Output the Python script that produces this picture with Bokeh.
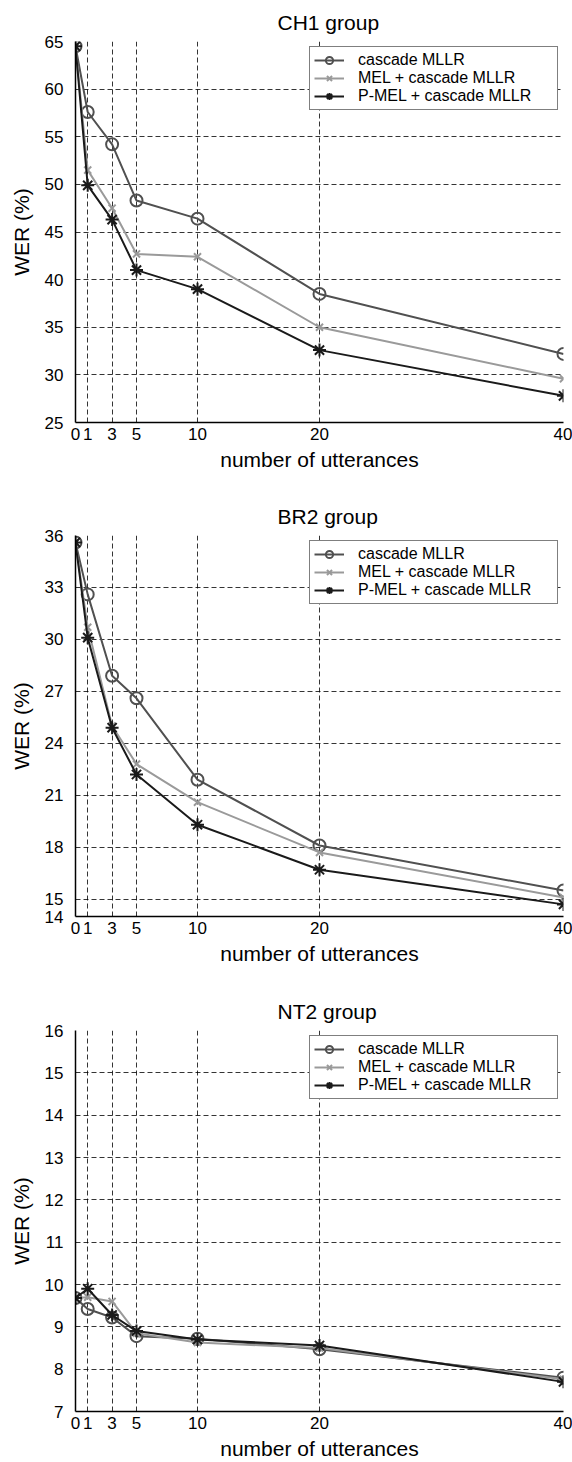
from bokeh.plotting import figure
from bokeh.layouts import column
from bokeh.models import Range1d
from bokeh.embed import file_html
from bokeh.resources import INLINE

# ---- data ----
x_utt = [0, 1, 3, 5, 10, 20, 40]
x_ticks = [0, 1, 3, 5, 10, 20, 40]

ch1_cascade = [64.5, 57.6, 54.2, 48.3, 46.4, 38.5, 32.2]
ch1_mel = [64.5, 51.5, 47.5, 42.7, 42.4, 35.0, 29.6]
ch1_pmel = [64.5, 49.9, 46.3, 41.0, 39.0, 32.6, 27.8]
ch1_yticks = [25, 30, 35, 40, 45, 50, 55, 60, 65]

br2_cascade = [35.6, 32.6, 27.9, 26.6, 21.9, 18.1, 15.5]
br2_mel = [35.6, 30.7, 25.0, 22.8, 20.6, 17.7, 15.1]
br2_pmel = [35.6, 30.1, 24.9, 22.2, 19.3, 16.7, 14.7]
br2_yticks = [14, 15, 18, 21, 24, 27, 30, 33, 36]

nt2_cascade = [9.68, 9.42, 9.22, 8.78, 8.72, 8.47, 7.80]
nt2_mel = [9.68, 9.70, 9.60, 8.85, 8.63, 8.50, 7.76]
nt2_pmel = [9.68, 9.90, 9.28, 8.90, 8.70, 8.56, 7.70]
nt2_yticks = [7, 8, 9, 10, 11, 12, 13, 14, 15, 16]

series_names = ["cascade MLLR", "MEL + cascade MLLR", "P-MEL + cascade MLLR"]

FONT = "Liberation Sans"


def make_panel(title, ymin, ymax, yticks, casc, mel, pmel, height, bottom):
    p = figure(width=572, height=height,
               x_range=Range1d(0, 40), y_range=Range1d(ymin, ymax),
               output_backend="svg", toolbar_location=None,
               min_border_left=75, min_border_right=9,
               min_border_top=40, min_border_bottom=bottom,
               title=title)
    p.outline_line_color = None
    p.background_fill_color = "white"
    p.border_fill_color = "white"

    p.title.text_font = FONT
    p.title.text_font_size = "21px"
    p.title.text_font_style = "normal"
    p.title.text_color = "black"
    p.title.align = "left"
    p.title.offset = 202
    p.title.standoff = 16
    p.title.text_line_height = 0.85

    p.xaxis.ticker = x_ticks
    p.yaxis.ticker = yticks
    for ax in (p.xaxis[0], p.yaxis[0]):
        ax.axis_line_color = "black"
        ax.axis_line_width = 1.5
        ax.major_tick_in = 0
        ax.major_tick_out = 0
        ax.minor_tick_in = 0
        ax.minor_tick_out = 0
        ax.major_label_text_font = FONT
        ax.major_label_text_font_size = "17px"
        ax.major_label_text_color = "black"
        ax.axis_label_text_font = FONT
        ax.axis_label_text_font_size = "21px"
        ax.axis_label_text_font_style = "normal"
        ax.axis_label_text_color = "black"
    p.xaxis.axis_label = "number of utterances"
    p.yaxis.axis_label = "WER (%)"
    p.xaxis.major_label_standoff = 5
    p.yaxis.major_label_standoff = 12
    p.xaxis.axis_label_standoff = 5
    p.yaxis.axis_label_standoff = 9

    p.grid.grid_line_color = "black"
    p.grid.grid_line_dash = "5 3"
    p.grid.grid_line_width = 0.8

    # cascade MLLR
    p.line(x_utt, casc, line_color="#505050", line_width=2, legend_label=series_names[0])
    p.scatter(x_utt, casc, marker="circle", size=12, fill_color=None,
              line_color="#505050", line_width=2, legend_label=series_names[0])
    # MEL + cascade MLLR
    p.line(x_utt, mel, line_color="#9a9a9a", line_width=2, legend_label=series_names[1])
    p.scatter(x_utt, mel, marker="x", size=10, line_color="#9a9a9a",
              line_width=2, legend_label=series_names[1])
    # P-MEL + cascade MLLR
    p.line(x_utt, pmel, line_color="#1a1a1a", line_width=2, legend_label=series_names[2])
    p.scatter(x_utt, pmel, marker="asterisk", size=13, line_color="#1a1a1a",
              line_width=2, legend_label=series_names[2])

    lg = p.legend[0]
    lg.location = "top_right"
    lg.margin = 5
    lg.padding = 4
    lg.spacing = 0
    lg.label_height = 18
    lg.glyph_height = 18
    lg.glyph_width = 30
    lg.label_standoff = 14
    lg.label_width = 195
    lg.label_text_font = FONT
    lg.label_text_font_size = "16px"
    lg.label_text_color = "black"
    lg.border_line_color = "black"
    lg.border_line_width = 1.5
    lg.background_fill_color = "white"
    lg.background_fill_alpha = 1.0
    return p


p1 = make_panel("CH1 group", 25, 65, ch1_yticks, ch1_cascade, ch1_mel, ch1_pmel, 494, 72)
p2 = make_panel("BR2 group", 14, 36, br2_yticks, br2_cascade, br2_mel, br2_pmel, 495, 73)
p3 = make_panel("NT2 group", 7, 16, nt2_yticks, nt2_cascade, nt2_mel, nt2_pmel, 473, 51)

layout = column(p1, p2, p3, spacing=0)
open("out.html", "w").write(file_html(layout, INLINE))
